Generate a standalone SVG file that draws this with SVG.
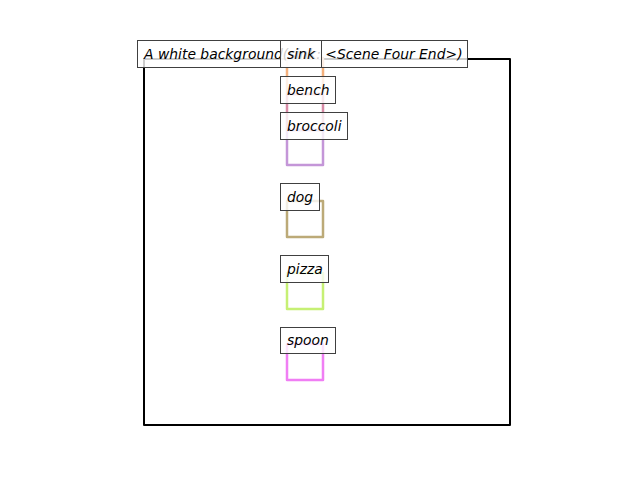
<svg xmlns="http://www.w3.org/2000/svg" width="640" height="480" viewBox="0 0 640 480">
<style>
.lbl rect{fill:#ffffff;fill-opacity:0.8;stroke:#404040;stroke-width:1}
.lbl text{font-family:"DejaVu Sans",sans-serif;font-style:oblique;font-size:13.9px;fill:#000}
.bx{fill:none;stroke-width:2.5;stroke-linejoin:round}
</style>
<rect width="640" height="480" fill="#ffffff"/>
<rect x="144" y="59" width="366" height="366" fill="none" stroke="#000" stroke-width="2" stroke-linejoin="round"/>
<g id="connectors">
<rect class="bx" x="287" y="58" width="36" height="36" stroke="#f4b07c"/>
<rect class="bx" x="287" y="94" width="36" height="36" stroke="#d88aa6"/>
<rect class="bx" x="287" y="130" width="36" height="35" stroke="#c496d8"/>
<rect class="bx" x="287" y="201" width="36" height="36" stroke="#bcaa78"/>
<rect class="bx" x="287" y="273" width="36" height="36" stroke="#c6f074"/>
<rect class="bx" x="287" y="344" width="36" height="36" stroke="#f07ef4"/>
</g>
<g id="title" class="lbl"><rect x="137.5" y="40.5" width="330" height="27"/><text x="144" y="59">A white background(sink: &lt;Scene Four End&gt;)</text></g>
<g id="sink" class="lbl"><rect x="280.5" y="40.5" width="41" height="27"/><text x="287" y="59">sink</text></g>
<g id="bench" class="lbl"><rect x="280.5" y="76.5" width="55" height="27"/><text x="287" y="95">bench</text></g>
<g id="broccoli" class="lbl"><rect x="280.5" y="112.5" width="67" height="27"/><text x="287" y="131">broccoli</text></g>
<g id="dog" class="lbl"><rect x="280.5" y="183.5" width="39" height="27"/><text x="287" y="202">dog</text></g>
<g id="pizza" class="lbl"><rect x="280.5" y="255.5" width="48" height="27"/><text x="287" y="274">pizza</text></g>
<g id="spoon" class="lbl"><rect x="280.5" y="327.5" width="55" height="26"/><text x="287" y="345">spoon</text></g>
</svg>
